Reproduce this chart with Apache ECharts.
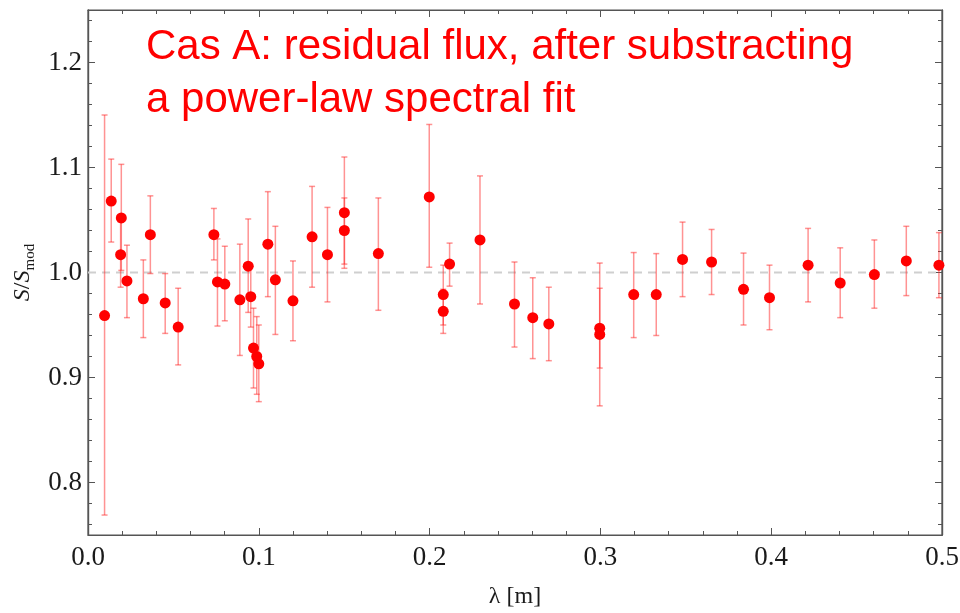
<!DOCTYPE html>
<html>
<head>
<meta charset="utf-8">
<script src="https://cdn.jsdelivr.net/npm/echarts@6/dist/echarts.min.js"></script>
<style>
  html, body { margin: 0; padding: 0; background: #fff; }
  #chart { width: 960px; height: 613px; }
</style>
</head>
<body>
<div id="chart"></div>
<script>
// wavelength [m]
var lambda = [0.0097, 0.0136, 0.0195, 0.0191, 0.0228, 0.0324, 0.0365, 0.0452, 0.0528, 0.0737,
  0.0758, 0.0801, 0.0889, 0.0938, 0.0953, 0.0969, 0.0988, 0.1000, 0.1053, 0.1097,
  0.1200, 0.1312, 0.1402, 0.1501, 0.1501, 0.1700, 0.1998, 0.2080, 0.2080, 0.2117,
  0.2295, 0.2497, 0.2604, 0.2698, 0.2996, 0.2996, 0.3195, 0.3327, 0.3481, 0.3651,
  0.3838, 0.3990, 0.4216, 0.4404, 0.4604, 0.4791, 0.4982];
// S / S_mod
var ratio = [0.959, 1.068, 1.052, 1.017, 0.992, 0.975, 1.036, 0.971, 0.948, 1.036,
  0.991, 0.989, 0.974, 1.006, 0.977, 0.928, 0.920, 0.913, 1.027, 0.993,
  0.973, 1.034, 1.017, 1.057, 1.040, 1.018, 1.072, 0.979, 0.963, 1.008,
  1.031, 0.970, 0.957, 0.951, 0.947, 0.941, 0.979, 0.979, 1.0125, 1.010,
  0.984, 0.976, 1.007, 0.990, 0.998, 1.011, 1.007];
// error bar ends
var errHigh = [1.150, 1.108, 1.103, 1.048, 1.026, 1.012, 1.073, 0.999, 0.985, 1.061,
  1.032, 1.025, 1.027, 1.051, 1.006, 0.966, 0.958, 0.950, 1.077, 1.044,
  1.011, 1.082, 1.062, 1.110, 1.071, 1.071, 1.141, 1.007, 0.984, 1.028,
  1.092, 1.010, 0.995, 0.986, 0.985, 1.009, 1.019, 1.018, 1.048, 1.041,
  1.0185, 1.007, 1.042, 1.0235, 1.031, 1.044, 1.038];
var errLow = [0.769, 1.029, 1.002, 0.986, 0.957, 0.938, 0.999, 0.942, 0.912, 1.012,
  0.949, 0.954, 0.921, 0.962, 0.948, 0.890, 0.884, 0.877, 0.977, 0.941,
  0.935, 0.986, 0.972, 1.008, 1.004, 0.964, 1.005, 0.950, 0.942, 0.987,
  0.970, 0.929, 0.918, 0.916, 0.909, 0.873, 0.938, 0.940, 0.977, 0.979,
  0.950, 0.9455, 0.972, 0.957, 0.966, 0.978, 0.976];
var yMajor = [0.8, 0.9, 1.0, 1.1, 1.2];
var yMinor = [0.76, 0.78, 0.82, 0.84, 0.86, 0.88, 0.92, 0.94, 0.96, 0.98,
  1.02, 1.04, 1.06, 1.08, 1.12, 1.14, 1.16, 1.18, 1.22, 1.24];

var points = lambda.map(function (x, i) { return [x, ratio[i]]; });
var bars = lambda.map(function (x, i) { return [x, errLow[i], errHigh[i]]; });

var frameColor = '#555';
var serif = '"Liberation Serif", "DejaVu Serif", serif';

function xAxisDef(pos, showLabel) {
  return {
    type: 'value', position: pos, min: 0, max: 0.5, interval: 0.1,
    axisLine: { show: true, lineStyle: { color: frameColor, width: 1.2 } },
    axisTick: { show: true, inside: true, length: 7, lineStyle: { color: frameColor } },
    minorTick: { show: true, splitNumber: 5, length: 4, lineStyle: { color: frameColor } },
    splitLine: { show: false },
    axisLabel: {
      show: showLabel, margin: 9, color: '#1a1a1a', fontFamily: serif, fontSize: 27,
      showMinLabel: true, showMaxLabel: true,
      formatter: function (v) { return v.toFixed(1); }
    },
    name: showLabel ? 'λ [m]' : '', nameLocation: 'middle', nameGap: 50,
    nameTextStyle: { color: '#1a1a1a', fontFamily: serif, fontSize: 24 }
  };
}

function yAxisDef(pos, ticks, len, showLabel) {
  return {
    type: 'value', position: pos, min: 0.75, max: 1.25,
    axisLine: { show: true, lineStyle: { color: frameColor, width: 1.2 } },
    axisTick: { show: true, inside: true, length: len, customValues: ticks, lineStyle: { color: frameColor } },
    splitLine: { show: false },
    axisLabel: {
      show: showLabel, customValues: ticks, margin: 6, color: '#1a1a1a', fontFamily: serif, fontSize: 27,
      formatter: function (v) { return v.toFixed(1); }
    },
    name: showLabel ? '{i|S}{n|/}{i|S}{sub|mod}' : '', nameLocation: 'middle', nameGap: 46,
    nameTextStyle: {
      rich: {
        i: { fontFamily: serif, fontStyle: 'italic', fontSize: 24, color: '#1a1a1a', lineHeight: 30 },
        n: { fontFamily: serif, fontSize: 24, color: '#1a1a1a', lineHeight: 30 },
        sub: { fontFamily: serif, fontSize: 15, color: '#1a1a1a', lineHeight: 15, verticalAlign: 'bottom' }
      }
    }
  };
}

var chart = echarts.init(document.getElementById('chart'));
chart.setOption({
  backgroundColor: '#fff',
  animation: false,
  grid: {
    left: 88, right: 18, top: 10, bottom: 78,
    containLabel: false, outerBoundsMode: 'none',
    show: true, borderColor: frameColor, borderWidth: 1.2
  },
  xAxis: [xAxisDef('bottom', true), xAxisDef('top', false)],
  yAxis: [
    yAxisDef('left', yMajor, 7, true),
    yAxisDef('left', yMinor, 4, false),
    yAxisDef('right', yMajor, 7, false),
    yAxisDef('right', yMinor, 4, false)
  ],
  graphic: [
    {
      type: 'text', left: 146, top: 26, silent: true,
      style: { text: 'Cas A: residual flux, after substracting', fill: '#ff0000',
        font: '42px "Liberation Sans", Arial, sans-serif' }
    },
    {
      type: 'text', left: 146, top: 79, silent: true,
      style: { text: 'a power-law spectral fit', fill: '#ff0000',
        font: '42px "Liberation Sans", Arial, sans-serif' }
    }
  ],
  series: [
    {
      type: 'line', data: [[0, 1.0], [0.5, 1.0]], symbol: 'none', silent: true,
      lineStyle: { color: '#cfcfcf', width: 2, type: [8, 6] }, z: 1
    },
    {
      type: 'custom', data: bars, z: 2, silent: true,
      renderItem: function (params, api) {
        var x = api.value(0);
        var pLo = api.coord([x, api.value(1)]);
        var pHi = api.coord([x, api.value(2)]);
        var w = 3;
        var st = { stroke: 'rgba(255, 40, 40, 0.5)', lineWidth: 1.5 };
        return {
          type: 'group',
          children: [
            { type: 'line', shape: { x1: pLo[0], y1: pLo[1], x2: pHi[0], y2: pHi[1] }, style: st },
            { type: 'line', shape: { x1: pHi[0] - w, y1: pHi[1], x2: pHi[0] + w, y2: pHi[1] }, style: st },
            { type: 'line', shape: { x1: pLo[0] - w, y1: pLo[1], x2: pLo[0] + w, y2: pLo[1] }, style: st }
          ]
        };
      }
    },
    {
      type: 'scatter', data: points, symbol: 'circle', symbolSize: 11, z: 3,
      itemStyle: { color: '#ff0000', opacity: 1 }
    }
  ]
});
</script>
</body>
</html>
